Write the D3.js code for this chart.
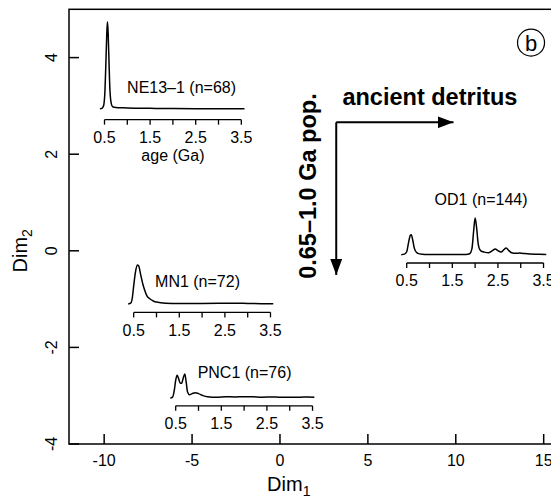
<!DOCTYPE html>
<html>
<head>
<meta charset="utf-8">
<script src="https://cdn.jsdelivr.net/npm/d3@7"></script>
<style>
  body { margin: 0; background: #fff; }
  svg { display: block; font-family: "Liberation Sans", Arial, Helvetica, sans-serif; }
</style>
</head>
<body>
<div id="container"></div>
<script>
// MDS map of detrital zircon samples, each drawn as a small KDE inset

var samples = ["NE13\u20131", "MN1", "PNC1", "OD1"];
var counts = [68, 72, 76, 144];
// MDS coordinates (centre of each inset, density zero line)
var dim1 = [-6.09, -4.43, -2.04, 11.10];
var dim2 = [2.94, -1.10, -3.05, -0.08];

// kde curves (age in Ga, relative density)
var ne13Ages = [0.40, 0.45, 0.48, 0.51, 0.53, 0.55, 0.565, 0.58, 0.60, 0.62, 0.65, 0.68, 0.75, 0.9, 1.2, 1.5, 2.0, 2.5, 3.0, 3.57];
var ne13Dens = [0, 0.09, 0.34, 2.07, 5.17, 8.62, 10.0, 8.74, 5.17, 2.07, 0.57, 0.23, 0.15, 0.11, 0.07, 0.05, 0.02, 0.01, 0.01, 0];

var mn1Ages = [0.38, 0.44, 0.47, 0.50, 0.54, 0.58, 0.61, 0.65, 0.70, 0.74, 0.79, 0.86, 0.93, 1.0, 1.2, 1.5, 2.0, 2.5, 2.7, 3.0, 3.3, 3.56];
var mn1Dens = [0, 0.11, 0.69, 2.07, 3.68, 4.48, 4.37, 3.45, 2.30, 1.61, 0.92, 0.57, 0.34, 0.21, 0.09, 0.06, 0.06, 0.08, 0.09, 0.06, 0.03, 0.02];

var pnc1Ages = [0.38, 0.43, 0.47, 0.50, 0.53, 0.56, 0.60, 0.63, 0.67, 0.70, 0.73, 0.76, 0.80, 0.86, 0.93, 1.0, 1.1, 1.2, 1.4, 1.6, 1.8, 2.0, 2.2, 2.4, 2.6, 2.8, 3.0, 3.2, 3.4, 3.54];
var pnc1Dens = [0, 0.11, 0.92, 2.07, 2.64, 2.30, 1.72, 1.72, 2.41, 2.76, 1.84, 0.69, 0.40, 0.52, 0.63, 0.52, 0.29, 0.17, 0.11, 0.15, 0.14, 0.17, 0.15, 0.11, 0.14, 0.09, 0.11, 0.10, 0.14, 0.11];

var od1Ages = [0.38, 0.45, 0.50, 0.54, 0.58, 0.60, 0.63, 0.67, 0.72, 0.78, 0.9, 1.2, 1.5, 1.8, 1.88, 1.93, 1.97, 2.0, 2.03, 2.07, 2.12, 2.2, 2.3, 2.38, 2.44, 2.5, 2.57, 2.63, 2.68, 2.74, 2.8, 2.9, 2.98, 3.05, 3.2, 3.4, 3.56];
var od1Dens = [0, 0.06, 0.34, 1.38, 2.24, 2.30, 1.72, 0.69, 0.23, 0.09, 0.03, 0.02, 0.02, 0.03, 0.11, 0.69, 2.87, 4.22, 3.22, 1.15, 0.46, 0.29, 0.23, 0.46, 0.66, 0.46, 0.31, 0.57, 0.77, 0.46, 0.23, 0.15, 0.18, 0.14, 0.07, 0.05, 0.03];

var kdeAges = [ne13Ages, mn1Ages, pnc1Ages, od1Ages];
var kdeDens = [ne13Dens, mn1Dens, pnc1Dens, od1Dens];

var xTicks = [-10, -5, 0, 5, 10, 15];
var yTicks = [-4, -2, 0, 2, 4];
var ageTicks = [0.5, 1, 1.5, 2, 2.5, 3, 3.5];
var ageLabels = [0.5, 1.5, 2.5, 3.5];

// label placement for each inset: [age, px above zero line]
var labelPos = [[2.19, 21], [1.90, 22.5], [2.01, 26], [2.13, 55]];

var width = 551, height = 501;
var font = 16;

var svg = d3.select("div#container")
  .append("svg")
  .attr("width", width)
  .attr("height", height);

var x = d3.scaleLinear().domain([-12, 15.7]).range([69, 556]);
var y = d3.scaleLinear().domain([-4, 5]).range([444, 9.3]);

//////////////// frame + axes ////////////////
svg.append("rect")
  .attr("x", x(-12)).attr("y", y(5))
  .attr("width", x(15.7) - x(-12)).attr("height", y(-4) - y(5))
  .attr("fill", "none").attr("stroke", "#000").attr("stroke-width", 1.5);

svg.selectAll(".xtick").data(xTicks).enter().append("line")
  .attr("x1", function(d) { return x(d); }).attr("x2", function(d) { return x(d); })
  .attr("y1", y(-4)).attr("y2", y(-4) - 10)
  .attr("stroke", "#000").attr("stroke-width", 1.5);

svg.selectAll(".xlab").data(xTicks).enter().append("text")
  .attr("x", function(d) { return x(d); })
  .attr("y", 466)
  .attr("text-anchor", "middle")
  .style("font-size", font + "px")
  .text(function(d) { return d; });

svg.selectAll(".ytick").data(yTicks).enter().append("line")
  .attr("x1", x(-12)).attr("x2", x(-12) + 10)
  .attr("y1", function(d) { return y(d); }).attr("y2", function(d) { return y(d); })
  .attr("stroke", "#000").attr("stroke-width", 1.5);

svg.selectAll(".ylab").data(yTicks).enter().append("text")
  .attr("transform", function(d) { return "translate(51," + y(d) + ") rotate(-90)"; })
  .attr("dy", "0.35em")
  .attr("text-anchor", "middle")
  .style("font-size", font + "px")
  .text(function(d) { return d; });

var xTitle = svg.append("text")
  .attr("x", x(0.5)).attr("y", 491)
  .attr("text-anchor", "middle")
  .style("font-size", "20px");
xTitle.append("tspan").text("Dim");
xTitle.append("tspan").attr("dy", 5).style("font-size", "14px").text("1");

var yTitle = svg.append("text")
  .attr("transform", "translate(27," + y(0) + ") rotate(-90)")
  .attr("text-anchor", "middle")
  .style("font-size", "20px");
yTitle.append("tspan").text("Dim");
yTitle.append("tspan").attr("dy", 5).style("font-size", "14px").text("2");

//////////////// kde insets ////////////////
var gaPerDim = 1 / 2.594;   // Dim1 units per Ga in the insets -> 2.594
var densToDim = 0.18;       // Dim2 units per density unit

samples.forEach(function(name, i) {
  var ax = d3.scaleLinear().domain([0.5, 3.5])
    .range([x(dim1[i] - 1.5 * 2.594), x(dim1[i] + 1.5 * 2.594)]);
  var dy = d3.scaleLinear().domain([0, 1])
    .range([y(dim2[i]), y(dim2[i] + densToDim)]);

  var pts = kdeAges[i].map(function(a, j) { return [a, kdeDens[i][j]]; });
  var peak = d3.max(kdeDens[i]);
  var g = svg.append("g").attr("class", "inset");

  g.append("path")
    .datum(pts)
    .attr("fill", "none").attr("stroke", "#000").attr("stroke-width", 1.5)
    .attr("stroke-linejoin", "round")
    .attr("d", d3.line()
      .x(function(d) { return ax(d[0]); })
      .y(function(d) { return dy(d[1]); })
      .curve(d3.curveMonotoneX));

  // age axis sits a little under the zero line, more for tall curves
  var axisY = dy(0) + 6.5 + 0.05 * (dy(0) - dy(peak));
  g.append("line")
    .attr("x1", ax(0.5)).attr("x2", ax(3.5))
    .attr("y1", axisY).attr("y2", axisY)
    .attr("stroke", "#000").attr("stroke-width", 1.3);
  g.selectAll(".atick").data(ageTicks).enter().append("line")
    .attr("x1", function(d) { return ax(d); }).attr("x2", function(d) { return ax(d); })
    .attr("y1", axisY).attr("y2", axisY + 5)
    .attr("stroke", "#000").attr("stroke-width", 1.3);
  g.selectAll(".alab").data(ageLabels).enter().append("text")
    .attr("x", function(d) { return ax(d); })
    .attr("y", axisY + 23.4)
    .attr("text-anchor", "middle")
    .style("font-size", font + "px")
    .text(function(d) { return d.toFixed(1); });
  if (i === 0) {
    g.append("text")
      .attr("x", ax(2)).attr("y", axisY + 41.6)
      .attr("text-anchor", "middle")
      .style("font-size", font + "px")
      .text("age (Ga)");
  }

  g.append("text")
    .attr("x", ax(labelPos[i][0]))
    .attr("y", dy(0) - labelPos[i][1])
    .attr("dy", "0.35em")
    .attr("text-anchor", "middle")
    .style("font-size", font + "px")
    .text(name + " (n=" + counts[i] + ")");
});

//////////////// arrows + annotation ////////////////
svg.append("defs").append("marker")
  .attr("id", "head")
  .attr("viewBox", "0 0 16 12")
  .attr("refX", 16).attr("refY", 6)
  .attr("markerWidth", 16).attr("markerHeight", 12)
  .attr("markerUnits", "userSpaceOnUse")
  .attr("orient", "auto")
  .append("path")
  .attr("d", "M0,0 L16,6 L0,12 Z")
  .attr("fill", "#000");

svg.append("path")
  .attr("d", "M" + x(3.2) + "," + y(2.66) + " L" + x(9.87) + "," + y(2.66))
  .attr("stroke", "#000").attr("stroke-width", 2).attr("fill", "none")
  .attr("marker-end", "url(#head)");
svg.append("path")
  .attr("d", "M" + x(3.2) + "," + y(2.66) + " L" + x(3.2) + "," + y(-0.5))
  .attr("stroke", "#000").attr("stroke-width", 2).attr("fill", "none")
  .attr("marker-end", "url(#head)");

svg.append("text")
  .attr("x", x(8.53)).attr("y", y(3.02))
  .attr("text-anchor", "middle")
  .style("font-size", "23.5px").style("font-weight", "bold")
  .text("ancient detritus");

svg.append("text")
  .attr("transform", "translate(" + x(1.6) + "," + y(1.34) + ") rotate(-90)")
  .attr("dy", "0.35em")
  .attr("text-anchor", "middle")
  .style("font-size", "23.5px").style("font-weight", "bold")
  .text("0.65\u20131.0 Ga pop.");

// panel letter
svg.append("circle")
  .attr("cx", x(14.28)).attr("cy", y(4.31)).attr("r", 13.5)
  .attr("fill", "none").attr("stroke", "#000").attr("stroke-width", 1.2);
svg.append("text")
  .attr("x", x(14.28)).attr("y", y(4.31))
  .attr("dy", "0.36em")
  .attr("text-anchor", "middle")
  .style("font-size", "22px")
  .text("b");
</script>
</body>
</html>
